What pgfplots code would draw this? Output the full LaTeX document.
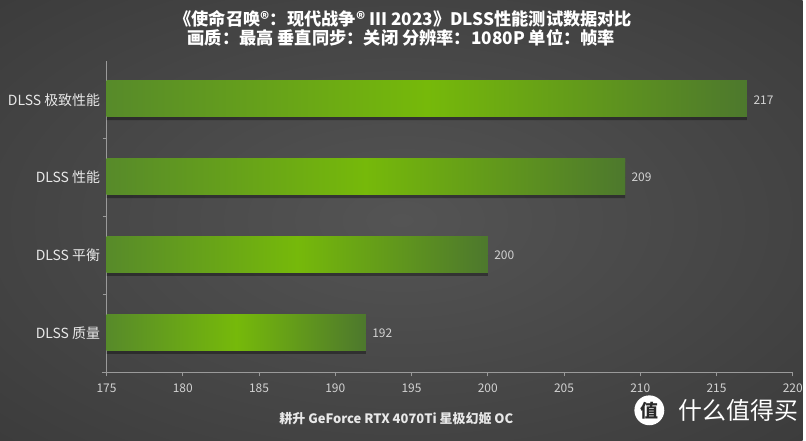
\documentclass[border=0pt]{standalone}
\usepackage{fontspec}
\setmainfont{Noto Sans CJK SC}
\usepackage{pgfplots}
\usepackage{pgfplotstable}
\pgfplotsset{compat=1.18}

\definecolor{bgin}{HTML}{545454}
\definecolor{bgout}{HTML}{2A2A2A}
\definecolor{barL}{HTML}{578A2A}
\definecolor{barM}{HTML}{76B90A}
\definecolor{barR}{HTML}{4D782D}
\definecolor{axisgray}{HTML}{9A9A9A}
\definecolor{ticktext}{HTML}{D2D2D2}
\definecolor{cattext}{HTML}{E8E8E8}
\pgfdeclareradialshading{bgshade}{\pgfpoint{0bp}{0bp}}{color(0bp)=(bgin); color(62bp)=(bgout)}

% DLSS mode (bottom to top) and frame rate
\pgfplotstableread{
pos fps
0 192
1 200
2 209
3 217
}\dlss

\begin{document}
\begin{tikzpicture}[x=1pt,y=1pt]
\shade[shading=bgshade] (0,0) rectangle (806,442);
\begin{axis}[
  at={(107pt,68pt)}, anchor=south west,
  scale only axis, width=689pt, height=313pt,
  xmin=175, xmax=220, ymin=-0.5, ymax=3.5,
  xtick={175,180,...,220},
  ytick={0.5,1.5,2.5}, yticklabels={},
  extra y ticks={0,1,2,3},
  extra y tick labels={DLSS 质量,DLSS 平衡,DLSS 性能,DLSS 极致性能},
  extra y tick style={major tick length=0pt},
  axis x line*=bottom, axis y line*=left,
  axis line style={axisgray, line width=0.8pt, -},
  x axis line style={shorten <=-5pt},
  tick style={axisgray, line width=0.8pt},
  tick align=outside, major tick length=4pt,
  xticklabel style={text=ticktext, font=\fontsize{12}{14}\selectfont, yshift=-4pt},
  yticklabel style={text=cattext, font=\fontsize{14}{16}\selectfont, xshift=-3pt},
  /pgf/number format/assume math mode=true,
]
% shadow under each bar
\addplot[xbar, bar width=36pt, bar shift=-2.5pt, draw=none, fill=black, fill opacity=0.35]
  table[x=fps, y=pos]{\dlss};
\addplot[xbar, bar width=36pt, bar shift=1pt, draw=none, fill=barL,
  point meta=x, nodes near coords,
  nodes near coords style={text=ticktext, font=\fontsize{12}{14}\selectfont, anchor=west, xshift=3pt}]
  table[x=fps, y=pos]{\dlss};
% gradient over each bar; its length is the same value mapped from [175,220] to the axis width
\addplot[only marks, scatter, mark=*, mark size=0pt,
  point meta=x, point meta min=175, point meta max=220,
  scatter/@pre marker code/.code={%
    \pgfkeys{/pgf/fpu=false}%
    \pgfmathsetmacro\barlen{\pgfplotspointmetatransformed*0.689}%
    \shade[draw=none, left color=barL, right color=barR, middle color=barM] (-\barlen pt,-17pt) rectangle (0pt,19pt);
  },
  scatter/@post marker code/.code={}]
  table[x=fps, y=pos]{\dlss};
\end{axis}
\node[text=white, font=\bfseries\fontsize{17.3}{19}\selectfont] at (405,423) {《使命召唤®：现代战争® III 2023》DLSS性能测试数据对比};
\node[text=white, font=\bfseries\fontsize{17.3}{19}\selectfont] at (403,404.5) {画质：最高 垂直同步：关闭 分辨率：1080P 单位：帧率};
\node[text=cattext, font=\bfseries\fontsize{13}{15}\selectfont] at (398,22) {耕升 GeForce RTX 4070Ti 星极幻姬 OC};
\fill[white] (652,30) circle (15);
\node[text=bgout, font=\bfseries\fontsize{18}{18}\selectfont] at (652,30) {值};
\node[anchor=west, text=white, font=\fontsize{24}{24}\selectfont] at (678,30) {什么值得买};
\end{tikzpicture}
\end{document}
